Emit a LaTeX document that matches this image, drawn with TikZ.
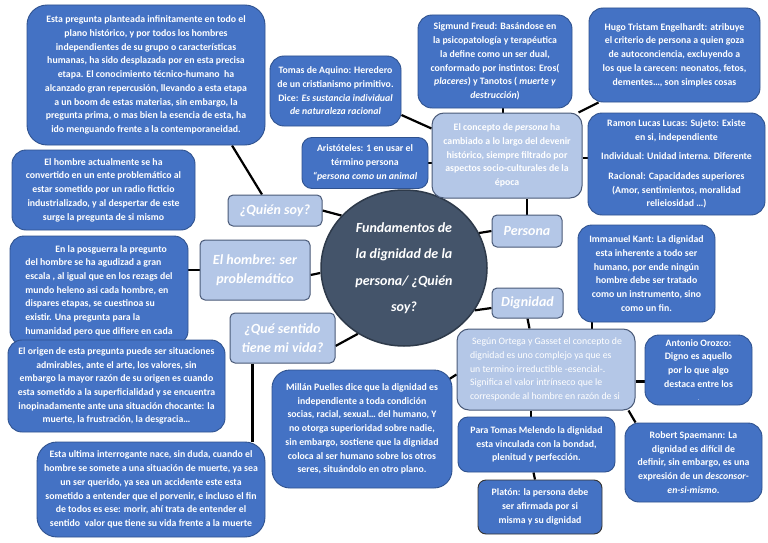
\documentclass[tikz,border=0pt]{standalone}
\usepackage{fontspec}
\setmainfont{Carlito}
\usetikzlibrary{shapes.geometric,backgrounds}
\definecolor{dkbox}{HTML}{4472C4}
\definecolor{dkedge}{HTML}{2F528F}
\definecolor{ltbox}{HTML}{B4C7E7}
\definecolor{ltedge}{HTML}{4A5A78}
\definecolor{hub}{HTML}{44546A}
\definecolor{hubedge}{HTML}{2E3A4A}
\tikzset{
  wh/.style 2 args={minimum width=#1pt, minimum height=#2pt},
  dark/.style={draw=dkedge, line width=0.9pt, fill=dkbox, rounded corners=14pt, text=white,
    font=\bfseries\fontsize{9.8}{13.7}\selectfont, align=center, inner sep=1pt},
  light/.style={draw=ltedge, line width=1pt, fill=ltbox, rounded corners=5pt, text=white,
    font=\bfseries\itshape\fontsize{14}{18.5}\selectfont, align=center, inner sep=2pt},
  lighttext/.style={draw=ltedge, line width=1pt, fill=ltbox, rounded corners=12pt, text=white,
    font=\bfseries\fontsize{9.8}{13.7}\selectfont, align=center, inner sep=1pt},
  hubnode/.style={ellipse, draw=hubedge, line width=1.5pt, fill=hub, text=white,
    font=\bfseries\itshape\fontsize{14}{26.5}\selectfont, align=center, inner sep=0pt},
  link/.style={line width=2.2pt, black},
}
\begin{document}
\begin{tikzpicture}[x=1pt,y=-1pt]
\useasboundingbox (0,0) rectangle (768,543);

% left column
\node[dark, wh={238}{140}, rounded corners=20pt] (A) at (146,75) {Esta pregunta planteada infinitamente en todo el\\plano histórico, y por todos los hombres\\independientes de su grupo o características\\humanas, ha sido desplazada por en esta precisa\\etapa. El conocimiento técnico-humano \ ha\\alcanzado gran repercusión, llevando a esta etapa\\a un boom de estas materias, sin embargo, la\\pregunta prima, o mas bien la esencia de esta, ha\\ido menguando frente a la contemporaneidad.};
\node[dark, wh={183}{80}] (B) at (103.5,190) {El hombre actualmente se ha\\convertido en un ente problemático al\\estar sometido por un radio ficticio\\industrializado, y al despertar de este\\surge la pregunta de si mismo};
\node[dark, wh={178}{109}, align=left] (C) at (99,290.5) {\hspace*{30pt}En la posguerra la pregunto\\del hombre se ha agudizad a gran\\escala , al igual que en los rezags del\\mundo heleno asi cada hombre, en\\dispares etapas, se cuestinoa su\\existir. Una pregunta para la\\humanidad pero que difiere en cada};
\node[dark, wh={217}{92}] (D) at (116.5,386) {El origen de esta pregunta puede ser situaciones\\admirables, ante el arte, los valores, sin\\embargo la mayor razón de su origen es cuando\\esta sometido a la superficialidad y se encuentra\\inopinadamente ante una situación chocante: la\\muerte, la frustración, la desgracia…};
\node[dark, wh={228}{95}, rounded corners=20pt] (E) at (151,489.5) {Esta ultima interrogante nace, sin duda, cuando el\\hombre se somete a una situación de muerte, ya sea\\un ser querido, ya sea un accidente este esta\\sometido a entender que el porvenir, e incluso el fin\\de todos es ese: morir, ahí trata de entender el\\sentido \ valor que tiene su vida frente a la muerte};

% labels
\node[light, wh={94}{31}] (quien) at (275,210.5) {¿Quién soy?};
\node[light, wh={110}{60}] (hombre) at (255,270) {El hombre: ser\\problemático};
\node[light, wh={105}{50}] (que) at (282.5,338) {¿Qué sentido\\tiene mi vida?};
\node[hubnode, minimum width=166pt, minimum height=156pt] (hub) at (404,268) {Fundamentos de\\la dignidad de la\\persona/ ¿Quién\\soy?};
\node[light, wh={70}{32}] (persona) at (527,231) {Persona};
\node[light, wh={71}{30}] (dignidad) at (527.5,303) {Dignidad};

% top right
\node[dark, wh={131}{70}] (tomas) at (335.5,91) {Tomas de Aquino: Heredero\\de un cristianismo primitivo.\\Dice: \textit{Es sustancia individual}\\\textit{de naturaleza racional}};
\node[dark, wh={154}{93}] (freud) at (495,61.5) {Sigmund Freud: Basándose en\\la psicopatología y terapéutica\\la define como un ser dual,\\conformado por instintos: Eros(\\\textit{placeres}) y Tanotos ( \textit{muerte y}\\\textit{destrucción})};
\node[dark, wh={171}{94}] (hugo) at (674.5,55) {Hugo Tristam Engelhardt: atribuye\\el criterio de persona a quien goza\\de autoconciencia, excluyendo a\\los que la carecen: neonatos, fetos,\\dementes…, son simples cosas};
\node[dark, wh={126}{51}, rounded corners=10pt] (arist) at (365,163) {Aristóteles: 1 en usar el\\término persona\\\textit{“persona como un animal}};
\node[lighttext, wh={150}{85}] (concept) at (507,155.5) {El concepto de \textit{persona} ha\\cambiado a lo largo del devenir\\histórico, siempre filtrado por\\aspectos socio-culturales de la\\época};
\node[dark, wh={177}{102}] (ramon) at (676.5,164) {Ramon Lucas Lucas: Sujeto: Existe\\en si, independiente\\[6pt]Individual: Unidad interna. Diferente\\[6pt]Racional: Capacidades superiores\\(Amor, sentimientos, moralidad\\relieiosidad …)};

% bottom right
\node[dark, wh={137}{97}] (kant) at (646.5,273.5) {Immanuel Kant: La dignidad\\esta inherente a todo ser\\humano, por ende ningún\\hombre debe ser tratado\\como un instrumento, sino\\como un fin.};
\node[lighttext, wh={178}{81}, align=left, font=\fontsize{9.8}{13.7}\selectfont] (ortega) at (546,369.5) {\ Según Ortega y Gasset el concepto de\\dignidad es uno complejo ya que es\\un termino irreductible -esencial-.\\Significa el valor intrínseco que le\\corresponde al hombre en razón de si};
\node[dark, wh={107}{70}] (orozco) at (698.5,370) {Antonio Orozco:\\Digno es aquello\\por lo que algo\\destaca entre los\\{\tiny .}};
\node[dark, wh={180}{118}, rounded corners=18pt] (millan) at (362,429) {Millán Puelles dice que la dignidad es\\independiente a toda condición\\socias, racial, sexual… del humano, Y\\no otorga superioridad sobre nadie,\\sin embargo, sostiene que la dignidad\\coloca al ser humano sobre los otros\\seres, situándolo en otro plano.};
\node[dark, wh={157}{55}, rounded corners=10pt] (melendo) at (536.5,444.5) {Para Tomas Melendo la dignidad\\esta vinculada con la bondad,\\plenitud y perfección.};
\node[dark, wh={124}{54}, rounded corners=8pt, draw=black!80] (platon) at (540,507) {Platón: la persona debe\\ser afirmada por si\\misma y su dignidad};
\node[dark, wh={137}{79}] (spaemann) at (693.5,462.5) {Robert Spaemann: La\\dignidad es difícil de\\definir, sin embargo, es una\\expresión de un \textit{desconsor-}\\\textit{en-si-mismo}.};

\begin{scope}[on background layer]
\fill[white] (0,0) rectangle (768,543);
\draw[link] ([xshift=86pt]A.south) -- ([xshift=-13pt]quien.north);
\draw[link] (quien.east) -- (hub.140);
\draw[link] ([yshift=-5pt]hombre.east) -- ([yshift=-5pt]hub.west);
\draw[link] (hombre.west) -- (hombre.west -| C.east);
\draw[link] ([yshift=-8pt]que.east) -- (hub.-125);
\draw[link] ([xshift=-30pt]que.south) -- ([xshift=-30pt]que.south |- E.north);
\draw[link] (tomas.-20) -- ([yshift=27pt]concept.west);
\draw[link] ([xshift=8pt]freud.south) -- ([xshift=8pt]freud.south |- concept.north);
\draw[link] ([xshift=10pt]hugo.south west) -- ([xshift=-4pt]concept.north east);
\draw[link] (arist.east) -- (arist.east -| concept.west);
\draw[link] ([yshift=6pt]ramon.west) -- ([yshift=6pt]ramon.west -| concept.east);
\draw[link] (persona.north) -- (persona.north |- concept.south);
\draw[link] (persona.west) -- (hub.25);
\draw[link] ([yshift=-5pt]dignidad.west) -- (hub.-31);
\draw[link] (dignidad.south) -- ([xshift=2pt]dignidad.south |- ortega.north);
\draw[link] ([xshift=-54.5pt]kant.south) -- ([xshift=-54.5pt]kant.south |- ortega.north);
\draw[link] ([yshift=-12pt]ortega.east) -- ([yshift=-12pt]ortega.east -| orozco.west);
\draw[link] ([yshift=-5pt]ortega.west) -- ([xshift=-4pt,yshift=-10pt]millan.north east);
\draw[link] ([xshift=-15pt]ortega.south) -- ([xshift=-15pt]ortega.south |- melendo.north);
\draw[link] ([xshift=-7pt]ortega.south east) -- ([xshift=11pt]spaemann.north west);
\draw[link] ([xshift=-3pt]melendo.south) -- ([xshift=-5pt]platon.north);
\end{scope}
\end{tikzpicture}
\end{document}
